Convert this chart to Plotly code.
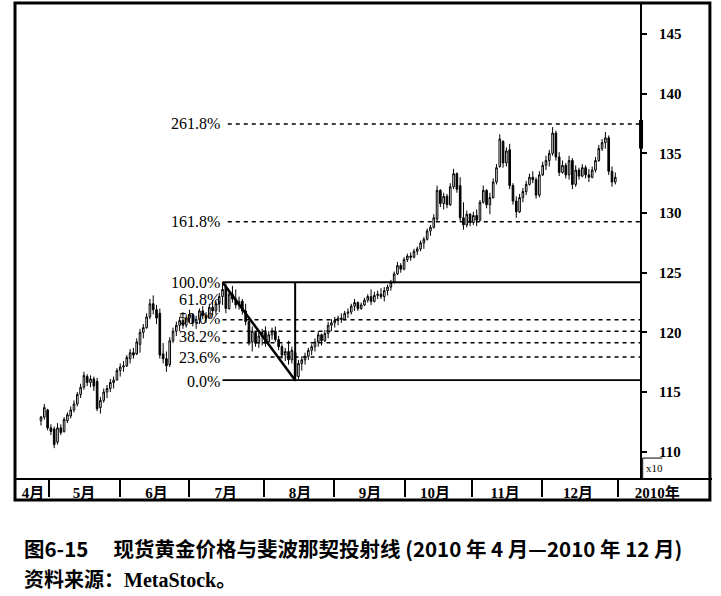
import plotly.graph_objects as go

# ---------------- data ----------------
opens = [112.6,112.9,113.5,112.0,111.9,110.8,112.0,111.7,112.6,113.0,
         113.5,114.0,114.8,115.4,116.3,115.8,116.1,115.9,113.7,114.3,
         115.0,115.3,115.8,116.0,116.8,117.1,117.2,117.8,118.3,118.2,
         119.0,120.0,120.4,121.3,122.4,121.9,121.6,118.2,117.8,117.3,
         119.3,120.1,120.6,121.0,120.6,121.2,121.5,120.8,121.1,121.8,
         121.4,121.2,122.1,121.8,122.4,123.0,123.8,122.0,123.2,122.8,
         122.3,122.6,121.8,120.9,119.2,120.0,119.1,119.7,120.0,119.2,
         119.8,120.1,119.4,118.8,118.1,118.4,117.7,118.3,116.3,117.4,
         117.7,118.0,118.5,118.8,119.2,119.8,119.3,119.9,120.6,120.8,
         121.0,121.2,121.1,121.6,121.7,122.2,122.5,122.0,122.3,122.7,
         123.0,122.6,123.1,123.2,123.0,123.5,123.8,124.2,124.9,125.6,
         125.3,126.1,126.4,126.3,126.8,127.0,127.5,127.8,128.5,128.8,
         129.5,131.9,130.8,131.4,130.7,132.2,133.3,132.3,129.6,129.0,
         129.9,129.2,129.8,129.4,130.9,131.9,130.7,131.3,132.6,133.9,
         136.0,134.2,135.3,132.3,131.0,130.1,131.3,131.8,132.4,133.0,
         132.8,131.5,133.2,134.0,134.4,135.0,136.7,134.7,133.4,134.0,
         133.2,134.4,132.4,133.6,133.1,133.8,133.2,133.0,133.6,134.4,
         135.4,135.9,136.3,133.5,132.6]
highs = [113.0,114.0,113.6,112.3,112.1,112.4,112.3,112.9,113.3,113.8,
         114.3,115.0,115.7,116.7,116.5,116.4,116.3,116.2,114.6,115.3,
         115.6,116.1,116.3,117.0,117.4,117.6,118.1,118.6,118.7,119.5,
         120.3,120.7,121.6,122.8,123.1,122.3,122.0,119.1,118.4,119.6,
         120.4,120.9,121.3,121.7,121.5,121.9,121.6,121.4,122.0,122.2,
         121.7,122.4,122.7,122.6,123.3,124.2,124.1,123.5,123.9,123.6,
         123.0,122.8,122.4,121.0,120.5,120.1,120.0,120.3,120.5,120.1,
         120.4,120.5,119.7,119.0,118.7,119.3,118.8,118.4,117.7,118.0,
         118.3,118.7,119.0,119.5,120.1,119.9,120.2,120.9,121.1,121.3,
         121.4,121.6,121.8,122.0,122.4,122.8,122.6,122.5,122.9,123.2,
         123.6,123.4,123.5,123.7,123.8,124.0,124.4,125.1,125.9,125.8,
         126.3,126.6,126.7,127.0,127.2,127.7,128.0,128.7,129.0,129.9,
         132.3,132.0,131.7,131.6,132.5,133.7,133.4,133.0,130.9,130.2,
         130.0,130.1,130.3,131.1,132.3,132.0,131.7,132.9,134.1,136.6,
         136.1,135.5,135.8,132.5,131.4,131.6,132.1,132.7,133.3,133.5,
         133.0,133.5,134.3,134.8,135.3,137.2,136.9,135.1,134.4,134.2,
         134.8,134.6,134.0,133.8,134.1,134.0,133.7,133.9,134.7,135.7,
         136.2,136.8,136.5,133.9,133.4]
lows = [112.2,112.7,111.8,111.4,110.3,110.6,111.4,111.6,112.4,112.8,
        113.3,113.8,114.5,115.2,115.5,115.4,115.1,113.4,113.2,114.1,
        114.5,115.0,115.3,116.0,116.3,116.7,117.1,117.4,117.8,118.1,
        118.3,119.5,120.3,121.1,121.5,120.7,117.8,117.4,116.7,117.1,
        119.1,119.7,120.1,120.3,120.4,120.8,120.5,120.3,120.7,121.1,
        120.8,121.2,121.4,121.5,121.7,122.3,121.6,121.9,122.5,122.0,
        121.9,121.5,120.6,118.9,118.4,118.8,118.7,118.9,118.8,119.1,
        119.4,119.2,118.5,117.8,117.6,117.3,117.4,115.9,116.1,116.8,
        117.3,117.7,118.1,118.4,118.8,118.9,119.2,119.5,120.1,120.4,
        120.6,120.8,121.0,121.2,121.5,121.8,121.8,121.9,122.2,122.5,
        122.3,122.5,122.8,122.8,122.6,123.1,123.5,124.1,124.8,125.0,
        125.2,125.9,126.0,126.2,126.5,126.8,127.0,127.7,128.1,128.7,
        129.3,130.5,130.3,130.4,130.6,132.0,131.7,129.3,128.6,128.8,
        128.9,129.0,128.9,129.3,130.8,130.4,129.9,131.2,132.4,133.8,
        133.8,133.9,132.0,130.7,129.6,130.0,130.9,131.5,132.3,132.5,
        131.2,131.3,133.1,133.6,133.9,134.8,134.4,133.1,133.3,132.9,
        132.8,132.0,132.2,132.8,133.0,132.9,132.6,132.9,133.4,134.3,
        135.2,135.4,133.2,132.2,132.4]
closes = [112.9,113.7,112.0,111.7,110.6,112.0,111.6,112.7,113.1,113.5,
          114.0,114.8,115.4,116.4,115.8,116.1,115.5,113.6,114.3,115.0,
          115.3,115.8,116.0,116.8,117.1,117.2,117.9,118.3,118.1,119.2,
          120.0,120.4,121.3,122.4,121.9,121.2,118.1,117.8,117.2,119.3,
          120.1,120.6,121.0,120.6,121.2,121.5,120.8,121.1,121.8,121.4,
          121.2,122.1,121.8,122.4,123.0,123.6,122.0,123.2,122.8,122.3,
          122.6,121.8,120.9,119.2,120.1,119.1,119.7,120.0,119.1,119.8,
          120.1,119.4,118.8,118.1,118.4,117.7,118.5,116.3,117.4,117.7,
          118.0,118.5,118.8,119.2,119.8,119.3,119.9,120.6,120.8,121.0,
          121.2,121.1,121.6,121.7,122.2,122.5,122.0,122.3,122.7,123.0,
          122.6,123.1,123.2,123.0,123.5,123.8,124.2,124.9,125.6,125.3,
          126.1,126.4,126.3,126.8,127.0,127.5,127.8,128.5,128.8,129.6,
          131.9,130.8,131.4,130.7,132.2,133.3,132.0,129.6,129.0,129.9,
          129.2,129.8,129.4,130.9,131.9,130.7,131.3,132.6,133.8,136.2,
          134.2,135.2,132.3,131.0,130.1,131.3,131.8,132.4,133.0,132.8,
          131.5,133.2,134.0,134.4,135.0,136.7,134.7,133.4,134.0,133.2,
          134.4,132.4,133.6,133.1,133.8,133.2,133.0,133.6,134.4,135.4,
          135.9,136.3,133.5,132.6,133.0]
days = list(range(len(closes)))

month_labels = ["4月", "5月", "6月", "7月", "8月", "9月", "10月", "11月", "12月", "2010年"]
month_label_days = [-2.4, 13, 35, 56, 78.5, 99.7, 119.4, 140.6, 162.7, 186.7]
month_sep_days = [2.4, 23.9, 44.8, 67.6, 88.8, 110.3, 130.6, 151.8, 174.8]

price_ticks = [110, 115, 120, 125, 130, 135, 140, 145]

fib_high = 124.2
fib_low = 116.0
fib_start_day = 55
fib_end_day = 77
fib_ratios = [0.0, 23.6, 38.2, 50.0, 61.8, 100.0, 161.8, 261.8]
fib_texts = ["0.0%", "23.6%", "38.2%", "50.0%", "61.8%", "100.0%", "161.8%", "261.8%"]

# ---------------- layout constants ----------------
X_MIN, X_MAX = -7.88, 203.3
Y_MIN, Y_MAX = 107.8, 147.6
AXIS_DAY = 181.8            # where the price axis sits
AXIS_POS = (AXIS_DAY - X_MIN) / (X_MAX - X_MIN)
label_shift = {61.8: 1.7, 50.0: 1.1, 38.2: 0.5, 0.0: -0.1}

fig = go.Figure()
fig.add_trace(go.Candlestick(
    x=days, open=opens, high=highs, low=lows, close=closes,
    increasing=dict(line=dict(color="black", width=1), fillcolor="white"),
    decreasing=dict(line=dict(color="black", width=1), fillcolor="black"),
    whiskerwidth=0, showlegend=False, hoverinfo="skip",
    xaxis="x", yaxis="y",
))

shapes = []
annotations = []
rng = fib_high - fib_low
for r, t in zip(fib_ratios, fib_texts):
    lvl = fib_low + rng * r / 100.0
    if r in (0.0, 100.0):
        dash, w, x0 = "solid", 2 if r == 100.0 else 1.6, fib_start_day
    elif r > 100:
        dash, w, x0 = "4px,4px", 1.5, fib_start_day + 1.6
    else:
        dash, w, x0 = "4px,4px", 1.5, fib_start_day
    shapes.append(dict(type="line", xref="x", yref="y", x0=x0, x1=AXIS_DAY,
                       y0=lvl, y1=lvl, line=dict(color="black", width=w, dash=dash)))
    annotations.append(dict(xref="x", yref="y", x=fib_start_day - 0.2,
                            y=lvl + label_shift.get(r, 0.0), text=t,
                            showarrow=False, xanchor="right", yanchor="middle",
                            font=dict(family="Liberation Serif", size=16, color="black")))

# vertical and diagonal fib lines
shapes.append(dict(type="line", xref="x", yref="y", x0=fib_end_day, x1=fib_end_day,
                   y0=fib_low, y1=fib_high, line=dict(color="black", width=2)))
shapes.append(dict(type="line", xref="x", yref="y", x0=fib_start_day, x1=fib_end_day,
                   y0=fib_high, y1=fib_low, line=dict(color="black", width=2.5)))
# last-price marker on axis
shapes.append(dict(type="line", xref="x", yref="y", x0=AXIS_DAY, x1=AXIS_DAY,
                   y0=135.4, y1=137.8, line=dict(color="black", width=4)))

# outer frame
shapes.append(dict(type="rect", xref="paper", yref="paper", x0=0, x1=0.997,
                   y0=-0.0463, y1=1, line=dict(color="black", width=3)))
# x10 box
xb = (AXIS_DAY + 0.5 - X_MIN) / (X_MAX - X_MIN)
shapes.append(dict(type="line", xref="paper", yref="paper", x0=xb, x1=xb + 0.028,
                   y0=0.042, y1=0.042, line=dict(color="black", width=1)))
shapes.append(dict(type="line", xref="paper", yref="paper", x0=xb, x1=xb,
                   y0=0.0, y1=0.042, line=dict(color="black", width=1)))
annotations.append(dict(xref="paper", yref="paper", x=xb + 0.002, y=0.021, text="x10",
                        showarrow=False, xanchor="left", yanchor="middle",
                        font=dict(family="Liberation Serif", size=11, color="black")))

# captions
annotations.append(dict(xref="paper", yref="paper", x=0.01, y=-0.147,
                        text="<b>图6-15　 现货黄金价格与斐波那契投射线 (2010 年 4 月—2010 年 12 月)</b>",
                        showarrow=False, xanchor="left", yanchor="middle",
                        font=dict(family="Noto Sans CJK SC", size=20.5, color="black")))
annotations.append(dict(xref="paper", yref="paper", x=0.01, y=-0.215,
                        text="<b>资料来源：MetaStock。</b>",
                        showarrow=False, xanchor="left", yanchor="middle",
                        font=dict(family="Liberation Serif, Noto Sans CJK SC", size=20, color="black")))

fig.update_layout(
    width=721, height=596,
    margin=dict(l=15, r=9, t=3, b=118, autoexpand=False),
    paper_bgcolor="white", plot_bgcolor="white",
    showlegend=False,
    shapes=shapes, annotations=annotations,
    xaxis=dict(range=[X_MIN, X_MAX], showgrid=False, zeroline=False,
               showline=True, linecolor="black", linewidth=2,
               tickmode="array", tickvals=month_label_days, ticktext=month_labels,
               ticks="", tickfont=dict(family="Liberation Serif, Noto Sans CJK SC", size=15, color="black"),
               minor=dict(tickmode="array", tickvals=month_sep_days, ticks="outside",
                          ticklen=17, tickwidth=2, tickcolor="black", showgrid=False),
               rangeslider=dict(visible=False), fixedrange=True),
    yaxis=dict(range=[Y_MIN, Y_MAX], showgrid=False, zeroline=False,
               anchor="free", position=AXIS_POS, side="right",
               showline=True, linecolor="black", linewidth=2,
               tickmode="array", tickvals=price_ticks, ticks="outside",
               ticklen=5, tickwidth=2, tickcolor="black", ticklabelstandoff=9,
               tickfont=dict(family="Liberation Serif", size=15, color="black"),
               fixedrange=True),
)
fig.update_xaxes(tickfont_weight="bold")
fig.update_yaxes(tickfont_weight="bold")

fig.write_html("out.html", config={"displayModeBar": False},
               post_script="document.body.style.margin='0';")
